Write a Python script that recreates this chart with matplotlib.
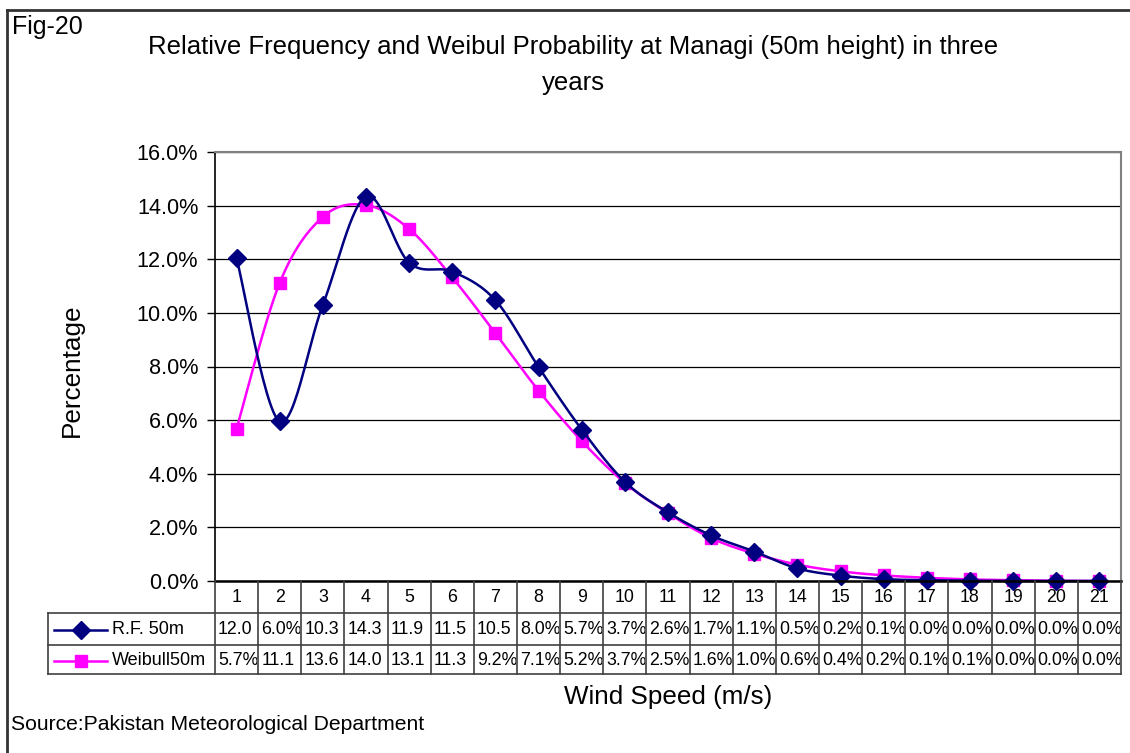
import numpy as np
import matplotlib
matplotlib.use("Agg")
import matplotlib.pyplot as plt
from matplotlib.lines import Line2D
from matplotlib.transforms import blended_transform_factory, Bbox
from matplotlib.ticker import FuncFormatter, MultipleLocator

plt.rcParams['font.family'] = ['Liberation Sans', 'DejaVu Sans']

# ---------------- data ----------------
wind_speed = list(range(1, 22))
rf_50m = [12.04, 5.95, 10.3, 14.34, 11.87, 11.54, 10.47, 7.98, 5.65, 3.7, 2.56,
          1.7, 1.1, 0.47, 0.2, 0.07, 0.03, 0.01, 0.0, 0.0, 0.0]
weibull_50m = [5.68, 11.12, 13.58, 14.02, 13.13, 11.32, 9.24, 7.1, 5.22, 3.66, 2.53,
               1.6, 1.02, 0.61, 0.36, 0.21, 0.12, 0.06, 0.03, 0.01, 0.0]
series_names = ["R.F. 50m", "Weibull50m"]
title_text = "Relative Frequency and Weibul Probability at Managi (50m height) in three\nyears"

W, H = 1130, 753
fig = plt.figure(figsize=(W / 100, H / 100), dpi=100)

def fx(px):
    return px / W

def fy(py):
    return 1 - py / H

L, R, T, B = 215, 1121, 152, 581
ax = fig.add_axes([fx(L), fy(B), fx(R) - fx(L), fy(T) - fy(B)])
ax.set_xlim(0.5, len(wind_speed) + 0.5)
ax.set_ylim(0, 16)

def smooth(xs, ys, n=30):
    xs = np.asarray(xs, float); ys = np.asarray(ys, float)
    px = np.concatenate([[xs[0]], xs, [xs[-1]]])
    py = np.concatenate([[ys[0]], ys, [ys[-1]]])
    outx, outy = [], []
    t = np.linspace(0, 1, n)
    for i in range(1, len(px) - 2):
        p0 = np.array([px[i], py[i]]); p3 = np.array([px[i + 1], py[i + 1]])
        b1 = p0 + (np.array([px[i + 1], py[i + 1]]) - np.array([px[i - 1], py[i - 1]])) / 6
        b2 = p3 - (np.array([px[i + 2], py[i + 2]]) - np.array([px[i], py[i]])) / 6
        for tt in t:
            pt = ((1 - tt) ** 3) * p0 + 3 * ((1 - tt) ** 2) * tt * b1 + 3 * (1 - tt) * tt ** 2 * b2 + tt ** 3 * p3
            outx.append(pt[0]); outy.append(pt[1])
    return outx, outy

navy = "#000080"
magenta = "#FF00FF"

sx, sy = smooth(wind_speed, weibull_50m)
ax.plot(sx, sy, color=magenta, lw=1.8, zorder=3, clip_on=False)
ax.plot(wind_speed, weibull_50m, ls='none', marker='s', ms=9, color=magenta, zorder=4, clip_on=False)
sx, sy = smooth(wind_speed, rf_50m)
ax.plot(sx, sy, color=navy, lw=1.8, zorder=5, clip_on=False)
ax.plot(wind_speed, rf_50m, ls='none', marker='D', ms=9.5, color=navy, zorder=6, clip_on=False)

ax.yaxis.set_major_locator(MultipleLocator(2))
ax.yaxis.set_major_formatter(FuncFormatter(lambda v, p: f"{v:.1f}%"))
ax.grid(axis='y', color='black', lw=0.9, zorder=0)
ax.set_xticks([])
ax.tick_params(axis='y', direction='out', length=6, width=1, labelsize=15.6, pad=6, colors='black')
for s in ['top', 'right']:
    ax.spines[s].set_color('#808080')
    ax.spines[s].set_linewidth(1.5)
ax.spines['left'].set_color('black')
ax.spines['left'].set_linewidth(1.2)
ax.spines['bottom'].set_color('black')
ax.spines['bottom'].set_linewidth(1.8)
ax.spines['bottom'].set_zorder(7)

# ---------------- data table ----------------
tr = blended_transform_factory(ax.transData, fig.transFigure)
line_col = '#404040'
row_y = [581, 613, 645, 674]
n = len(wind_speed)
edges = [i + 0.5 for i in range(0, n + 1)]
for e in edges:
    fig.add_artist(Line2D([e, e], [fy(row_y[0]), fy(row_y[3])], transform=tr, color=line_col, lw=1.2))
for yy in row_y[1:]:
    fig.add_artist(Line2D([fx(48), fx(R)], [fy(yy), fy(yy)], color=line_col, lw=1.2))
fig.add_artist(Line2D([fx(48), fx(48)], [fy(row_y[1]), fy(row_y[3])], color=line_col, lw=1.2))

for i, ws in enumerate(wind_speed):
    fig.text(ws, fy(597), str(ws), transform=tr, ha='center', va='center', fontsize=12.8)

fig.canvas.draw()
for r, vals in enumerate([rf_50m, weibull_50m]):
    yc = fy((row_y[r + 1] + row_y[r + 2]) / 2 + 1)
    for ws, v in zip(wind_speed, vals):
        lab = f"{v:.1f}" if round(v, 1) >= 10 else f"{v:.1f}%"
        x0 = ax.transData.transform((ws - 0.5, 0))[0]
        x1 = ax.transData.transform((ws + 0.5, 0))[0]
        t = fig.text(fx(x0 + 3), yc, lab, ha='left', va='center', fontsize=12.8)
        t.set_clip_box(Bbox([[x0, 0], [x1 - 1, H]]))
        t.set_clip_on(True)

# legend keys inside table
for r, (col, mk, ms, name) in enumerate([(navy, 'D', 9.5, series_names[0]), (magenta, 's', 9, series_names[1])]):
    yc = fy((row_y[r + 1] + row_y[r + 2]) / 2 + 1)
    fig.add_artist(Line2D([fx(54), fx(107)], [yc, yc], color=col, lw=1.8))
    fig.add_artist(Line2D([fx(80.5)], [yc], color=col, marker=mk, ms=ms, ls='none'))
    fig.text(fx(112), yc, name, ha='left', va='center', fontsize=13)

# ---------------- texts ----------------
fig.text(fx(573), fy(65), title_text, ha='center', va='center', fontsize=18.5, linespacing=1.6)
fig.text(fx(12), fy(27), "Fig-20", ha='left', va='center', fontsize=18)
fig.text(fx(72), fy(370), "Percentage", rotation=90, ha='center', va='center', fontsize=18.8)
fig.text(fx(668), fy(697), "Wind Speed (m/s)", ha='center', va='center', fontsize=18.7)
fig.text(fx(11), fy(725), "Source:Pakistan Meteorological Department", ha='left', va='center', fontsize=15.2)

# outer chart border (only left and top visible)
fig.add_artist(Line2D([fx(7), fx(7)], [fy(10), 0], color='#333333', lw=2))
fig.add_artist(Line2D([fx(7), 1], [fy(10), fy(10)], color='#333333', lw=2))

fig.savefig("out.png", dpi=100)
